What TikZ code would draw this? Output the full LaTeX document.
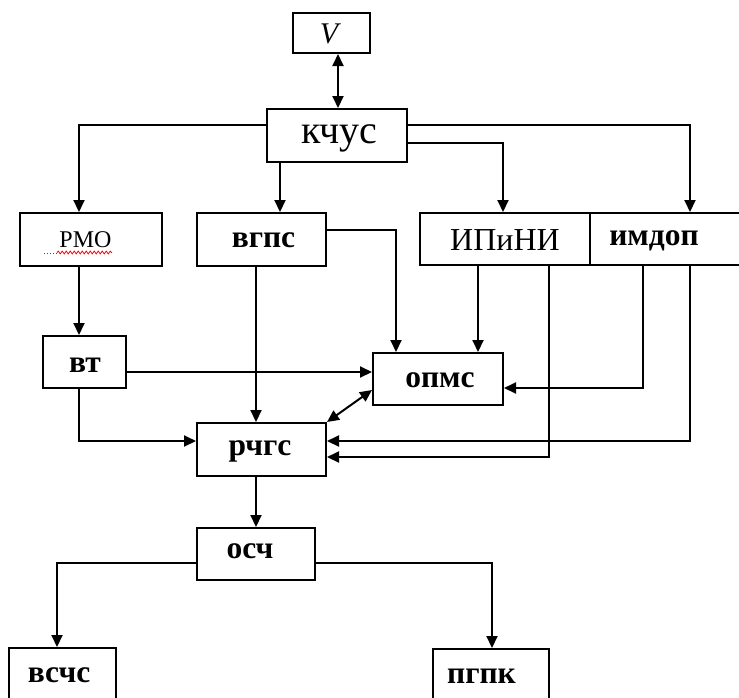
\documentclass[tikz,border=0pt]{standalone}
\usepackage{fontspec}
\setmainfont{Liberation Serif}
\usetikzlibrary{arrows.meta,decorations.pathmorphing}
\begin{document}
\begin{tikzpicture}[x=1pt,y=-1pt,
  box/.style={draw,line width=2pt,inner sep=0pt,minimum width=#1},
  lnk/.style={line width=2pt,-{Triangle[length=12pt,width=11pt]}},
  dlnk/.style={line width=2pt,{Triangle[length=12pt,width=11pt]}-{Triangle[length=12pt,width=11pt]}},
  lbl/.style={anchor=base,inner sep=0pt},
  bt/.style={lbl,font=\fontsize{31.5}{31.5}\selectfont\bfseries}]
\useasboundingbox (0,0) rectangle (739,697);
\clip (0,0) rectangle (739,697);
% boxes
\node[box=77,minimum height=40] (V) at (331.5,33) {};
\node[box=140,minimum height=53] (kc) at (337,135.5) {};
\node[box=142,minimum height=53] (rmo) at (91,239.5) {};
\node[box=129,minimum height=53] (vg) at (261.5,239.5) {};
\node[box=170,minimum height=52] (ip) at (505,239) {};
\node[box=155,minimum height=52] (im) at (667.5,239) {};
\node[box=83,minimum height=52] (vt) at (84.5,362) {};
\node[box=130,minimum height=52] (op) at (438,379) {};
\node[box=129,minimum height=53] (rc) at (261.5,449.5) {};
\node[box=118,minimum height=52] (os) at (256,554) {};
\node[box=107,minimum height=54] (vs) at (62.5,675) {};
\node[box=116,minimum height=54] (pg) at (491,676) {};
% texts
\node[lbl,font=\fontsize{30}{30}\selectfont\itshape] (Vt) at (329,43) {V};
\node[lbl,font=\fontsize{40}{40}\selectfont] (kct) at (339,143) {кчус};
\node[lbl,font=\fontsize{24}{24}\selectfont] (rmot) at (85.5,247) {РМО};
\node[bt] (vgt) at (263.5,247) {вгпс};
\node[lbl,font=\fontsize{32}{32}\selectfont] (ipt) at (505,250) {ИПиНИ};
\node[bt] (imt) at (654,245) {имдоп};
\node[bt] (vtt) at (85,372) {вт};
\node[bt] (opt) at (440,387) {опмс};
\node[bt] (rct) at (260,455) {рчгс};
\node[bt] (ost) at (250,558) {осч};
\node[bt] (vst) at (59,682) {всчс};
\node[bt] (pgt) at (481.5,683) {пгпк};
% spell-check squiggle
\draw[red,line width=0.9pt,dotted] (44,253) -- (57,253);
\draw[red,line width=0.8pt,decorate,decoration={snake,amplitude=1.4pt,segment length=4pt}] (57,252.5) -- (112,252.5);
% connectors
\draw[dlnk] (V.south -| 338,0) -- (kc.north -| 338,0);
\draw[lnk] (kc.west |- 0,125) -| (rmo.north -| 79,0);
\draw[lnk] (kc.south -| 280,0) -- (vg.north -| 280,0);
\draw[lnk] (kc.east |- 0,125) -| (im.north -| 690,0);
\draw[lnk] (kc.east |- 0,143) -| (ip.north -| 503,0);
\draw[lnk] (rmo.south -| 79,0) -- (vt.north -| 79,0);
\draw[lnk] (vg.east |- 0,230) -| (op.north -| 396,0);
\draw[lnk] (vg.south -| 256,0) -- (rc.north -| 256,0);
\draw[lnk] (ip.south -| 478,0) -- (op.north -| 478,0);
\draw[lnk] (ip.south -| 549,0) |- (rc.east |- 0,457);
\draw[lnk] (im.south -| 643,0) |- (op.east |- 0,388);
\draw[lnk] (im.south -| 690,0) |- (rc.east |- 0,441);
\draw[lnk] (vt.east |- 0,372) -- (op.west |- 0,372);
\draw[lnk] (vt.south -| 79,0) |- (rc.west |- 0,441);
\draw[dlnk] (rc.north east) -- (op.west |- 0,390);
\draw[lnk] (rc.south -| 256,0) -- (os.north -| 256,0);
\draw[lnk] (os.west |- 0,563) -| (vs.north -| 57,0);
\draw[lnk] (os.east |- 0,563) -| (pg.north -| 492,0);
\end{tikzpicture}
\end{document}
